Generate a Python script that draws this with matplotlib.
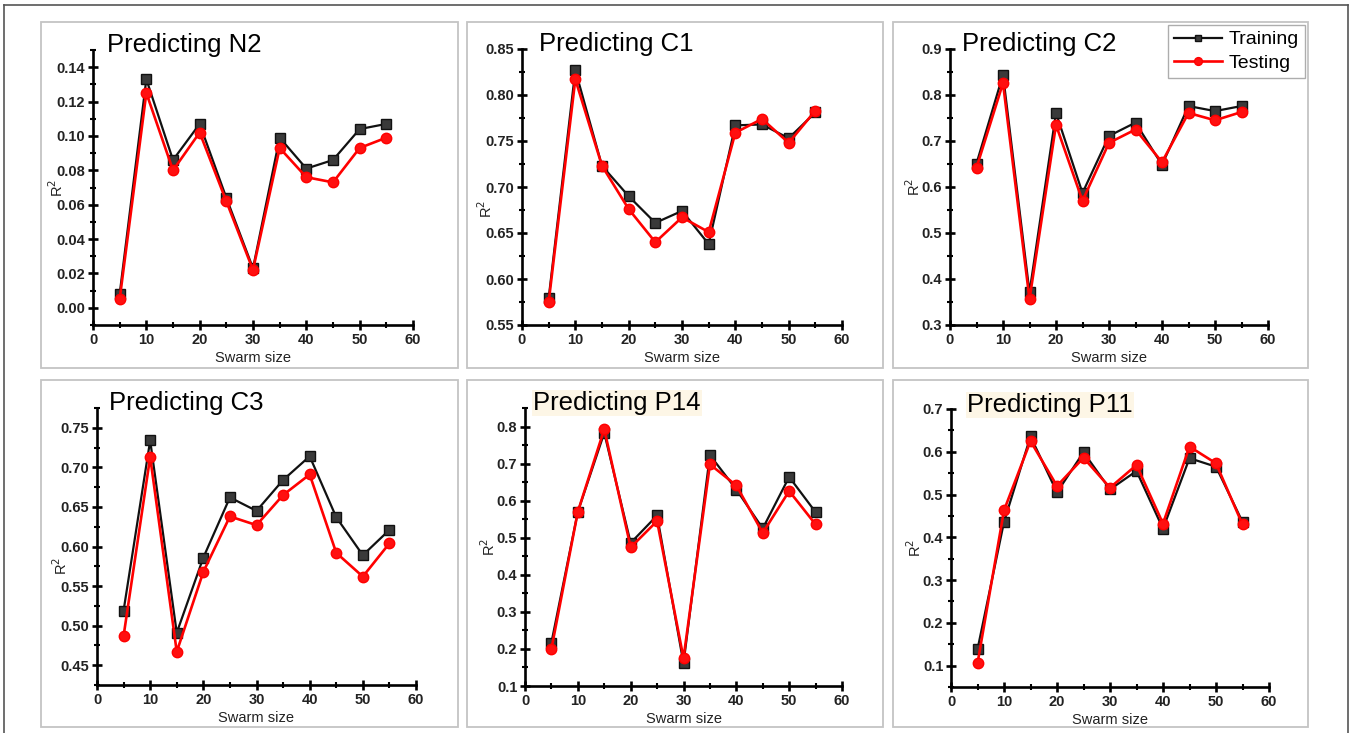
import numpy as np
import matplotlib
matplotlib.use("Agg")
import matplotlib.pyplot as plt
from matplotlib.patches import Rectangle
from matplotlib.lines import Line2D
from matplotlib.ticker import MultipleLocator, FormatStrFormatter

plt.rcParams['font.family'] = ['Liberation Sans', 'DejaVu Sans']

# swarm sizes (x axis, shared by all panels)
swarm = [5, 10, 15, 20, 25, 30, 35, 40, 45, 50, 55]

# R^2 values
n2_train = [0.008, 0.133, 0.086, 0.107, 0.064, 0.023, 0.099, 0.081, 0.086, 0.104, 0.107]
n2_test = [0.005, 0.125, 0.080, 0.102, 0.062, 0.022, 0.093, 0.076, 0.073, 0.093, 0.099]

c1_train = [0.579, 0.827, 0.723, 0.690, 0.661, 0.674, 0.638, 0.767, 0.768, 0.753, 0.781]
c1_test = [0.575, 0.817, 0.723, 0.676, 0.640, 0.667, 0.651, 0.759, 0.774, 0.748, 0.783]

c2_train = [0.651, 0.844, 0.371, 0.761, 0.587, 0.711, 0.740, 0.648, 0.776, 0.765, 0.776]
c2_test = [0.642, 0.826, 0.356, 0.735, 0.570, 0.696, 0.725, 0.654, 0.761, 0.745, 0.763]

c3_train = [0.519, 0.734, 0.491, 0.586, 0.662, 0.645, 0.684, 0.714, 0.637, 0.589, 0.621]
c3_test = [0.487, 0.713, 0.467, 0.568, 0.638, 0.627, 0.665, 0.691, 0.592, 0.562, 0.604]

p14_train = [0.217, 0.570, 0.783, 0.486, 0.560, 0.161, 0.723, 0.630, 0.525, 0.664, 0.569]
p14_test = [0.200, 0.570, 0.793, 0.474, 0.545, 0.175, 0.698, 0.641, 0.513, 0.626, 0.536]

p11_train = [0.138, 0.436, 0.636, 0.505, 0.599, 0.512, 0.555, 0.420, 0.585, 0.565, 0.436]
p11_test = [0.105, 0.463, 0.625, 0.520, 0.586, 0.516, 0.569, 0.432, 0.612, 0.573, 0.430]

titles = ['Predicting N2', 'Predicting C1', 'Predicting C2',
          'Predicting C3', 'Predicting P14', 'Predicting P11']

W, H = 1351, 733
fig = plt.figure(figsize=(W / 100, H / 100), dpi=100)


def px_rect(l, t, r, b):
    return [l / W, (H - b) / H, (r - l) / W, (b - t) / H]


# outer frame and the grey panel boxes
fig.add_artist(Line2D([4 / W, 1348 / W], [1 - 5 / H, 1 - 5 / H], color='#555555', lw=1.2))
fig.add_artist(Line2D([4 / W, 4 / W], [0, 1 - 5 / H], color='#555555', lw=1.2))
fig.add_artist(Line2D([1348 / W, 1348 / W], [0, 1 - 5 / H], color='#555555', lw=1.2))
boxes = [(41, 22, 458, 368), (467, 22, 883, 368), (893, 22, 1308, 368),
         (41, 380, 458, 727), (467, 380, 883, 727), (893, 380, 1308, 727)]
for l, t, r, b in boxes:
    fig.add_artist(Rectangle((l / W, (H - b) / H), (r - l) / W, (b - t) / H,
                             transform=fig.transFigure, fill=False,
                             edgecolor='#c4c4c4', lw=1.3))

# axes rectangles in pixels (left, top, right, bottom)
ax_px = [(93, 50, 413, 325), (522, 49, 842, 325), (950, 49, 1268, 325),
         (97, 408, 416, 685), (525, 408, 842, 686), (951, 409, 1269, 687)]
ylims = [(-0.01, 0.15), (0.55, 0.85), (0.3, 0.9),
         (0.425, 0.775), (0.1, 0.85), (0.05, 0.7)]
ysteps = [0.02, 0.05, 0.1, 0.05, 0.1, 0.1]
yfmt = ['%.2f', '%.2f', '%.1f', '%.2f', '%.1f', '%.1f']
ylab_y = [0.5, 0.42, 0.5, 0.43, 0.5, 0.5]
title_pos = [(107, 45), (539, 44), (962, 44), (109, 403), (533, 403), (967, 405)]
train_sets = [n2_train, c1_train, c2_train, c3_train, p14_train, p11_train]
test_sets = [n2_test, c1_test, c2_test, c3_test, p14_test, p11_test]

for i in range(6):
    ax = fig.add_axes(px_rect(*ax_px[i]))
    ax.plot(swarm, train_sets[i], color='#111111', lw=1.6, marker='s', ms=6.5,
            mfc='#3a3a3a', mec='#111111', mew=1, label='Training', zorder=3)
    ax.plot(swarm, test_sets[i], color='#ff0000', lw=1.9, marker='o', ms=7.5,
            mfc='#ff1010', mec='#ff0000', label='Testing', zorder=4)

    ax.set_xlim(0, 60)
    ax.set_ylim(*ylims[i])
    ax.xaxis.set_major_locator(MultipleLocator(10))
    ax.xaxis.set_minor_locator(MultipleLocator(5))
    ax.yaxis.set_major_locator(MultipleLocator(ysteps[i]))
    ax.yaxis.set_minor_locator(MultipleLocator(ysteps[i] / 2))
    ax.yaxis.set_major_formatter(FormatStrFormatter(yfmt[i]))

    for s in ['top', 'right']:
        ax.spines[s].set_visible(False)
    for s in ['left', 'bottom']:
        ax.spines[s].set_linewidth(1.9)
    ax.tick_params(which='major', direction='inout', length=7, width=1.9,
                   labelsize=10.5, pad=2)
    ax.tick_params(which='minor', direction='inout', length=4.5, width=1.5)
    for lab in ax.get_xticklabels() + ax.get_yticklabels():
        lab.set_fontweight('bold')
        lab.set_color('#222222')

    ax.set_xlabel('Swarm size', fontsize=10.5, labelpad=3, color='#222222')
    ax.set_ylabel('R$^2$', fontsize=10.5, color='#222222')
    ax.yaxis.set_label_coords(-0.085, ylab_y[i])

    tx, ty = title_pos[i]
    bg = '#fdf6e6' if i >= 4 else 'none'
    fig.text(tx / W, 1 - ty / H, titles[i], fontsize=18.5, va='center', ha='left',
             color='black',
             bbox=dict(facecolor=bg, edgecolor='none', pad=1) if i >= 4 else None)

    if i == 2:
        ax.legend(loc='upper right', bbox_to_anchor=(1305 / W, 1 - 25 / H),
                  bbox_transform=fig.transFigure, fontsize=14, frameon=True,
                  fancybox=False, edgecolor='#999999', handlelength=2.5,
                  handletextpad=0.35, borderpad=0.3, labelspacing=0.3,
                  borderaxespad=0, markerscale=0.75)

fig.savefig('out.png', dpi=100)
